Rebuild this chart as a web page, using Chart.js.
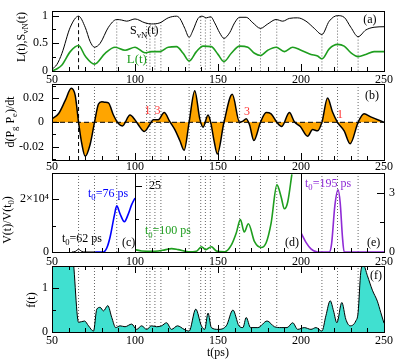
<!DOCTYPE html>
<html>
<head>
<meta charset="utf-8">
<script src="https://cdn.jsdelivr.net/npm/chart.js@4.4.0/dist/chart.umd.min.js"></script>
<style>
body { margin: 0; background: #fff; }
#wrap { position: relative; width: 395px; height: 362px; }
canvas { position: absolute; left: 0; top: 0; }
</style>
</head>
<body>
<div id="wrap">
<canvas id="pa" width="395" height="362"></canvas>
<canvas id="pb" width="395" height="362"></canvas>
<canvas id="pc" width="395" height="362"></canvas>
<canvas id="pd" width="395" height="362"></canvas>
<canvas id="pe" width="395" height="362"></canvas>
<canvas id="pf" width="395" height="362"></canvas>
</div>
<script>
// values, [t (ps), value]
let entropy = [[50,0.03],[53,0.12],[56,0.32],[61,0.79],[66,0.99],[70,0.79],[73,0.53],[75.6,0.43],[79,0.5],[84,0.79],[89,0.93],[92,0.92],[95,0.9],[100,0.94],[106,0.87],[110,0.85],[115,0.87],[120,0.96],[125,0.99],[127,0.95],[130,0.77],[132.6,0.61],[135,0.74],[138,0.95],[140.4,0.99],[143,0.96],[145.6,0.98],[148,0.87],[151,0.69],[153.6,0.59],[157,0.69],[160,0.87],[163,0.97],[167,0.97],[171,0.87],[175.6,0.77],[180,0.85],[185,0.93],[189,0.9],[193,0.95],[198,0.96],[203,0.9],[208,0.77],[212.6,0.66],[217,0.9],[222,1.0],[226,0.97],[230,0.79],[234.4,0.62],[239,0.74],[244,0.79],[250,0.8]];
let linEnt = [[50,0.0],[53,0.04],[56,0.11],[61,0.35],[66,0.46],[70,0.27],[75.6,0.125],[82,0.32],[88,0.43],[94,0.375],[100,0.43],[106,0.33],[110,0.35],[115,0.35],[120,0.43],[125,0.44],[129,0.32],[132.6,0.18],[137,0.35],[141,0.45],[146,0.44],[150,0.3],[153.6,0.17],[158,0.32],[163,0.45],[168,0.43],[172,0.32],[175.6,0.28],[180,0.375],[185,0.43],[190,0.35],[195,0.43],[200,0.375],[206,0.3],[210,0.27],[212.6,0.22],[217,0.4],[222,0.48],[226,0.45],[230,0.33],[234.4,0.26],[239,0.3],[244,0.35],[250,0.35]];
let dPgPe = [[50,0.0027],[54,0.0072],[58,0.018],[61.6,0.028],[64,0.022],[66,0],[68,-0.018],[70,-0.028],[73,-0.018],[75.6,0],[78,0.015],[80,0.017],[82,0.0165],[84,0.016],[87,0.006],[90,-0.001],[92.4,-0.003],[97,0.006],[100,0.002],[102,-0.002],[105.6,-0.0075],[109,-0.0016],[111,0.002],[114,0.002],[117.6,0.008],[121,0.0005],[124,-0.006],[127,-0.015],[129.6,-0.023],[132.6,0],[136,0.026],[139,0.003],[141,-0.004],[144,0.006],[145.6,0],[147.6,-0.015],[149.6,-0.026],[153.6,0],[158.6,0.023],[163,0],[165,0.001],[167,0.003],[169,-0.002],[171.6,-0.015],[175.6,0],[179,0.008],[182,0.007],[185.4,0],[188.4,-0.0035],[193,0.008],[196,0.0005],[199.6,-0.0035],[204,-0.0115],[207,-0.006],[210,-0.007],[212.6,0],[216,0.02],[219,0.0085],[222,0],[226,-0.007],[229.6,-0.0176],[234.4,0],[238,0.007],[242,0.0045],[250,0]];
let ratio62 = [[62,0],[64,200],[66,1000],[68,200],[70,0],[76,0]];
let ratio76 = [[76,0],[81,0],[83,1500],[85,5700],[87.6,14000],[89,17500],[91,14500],[93.6,11500],[96,14500],[98,18000],[100,20500]];
let ratio100 = [[100,0.9],[104,0.4],[112,0.3],[118,0.8],[122,1.3],[126,0.9],[132,0.1],[137,0.3],[140,2.0],[142.6,0.9],[146,2.0],[149,0.4],[154,0.1],[158,2.6],[161,7.2],[163.5,12.3],[165.8,7.6],[168.3,10.7],[172,3.9],[176,1.7],[179,3.5],[182,11],[185.5,25.5],[188,21],[190,16.4],[192,19],[194.5,29.5]];
let ratio195 = [[200,0.97],[203,0.49],[206,0.16],[210,0],[217,0],[218.4,0.4],[220.4,2.35],[222.3,3.15],[223.6,2.5],[225,0.73],[226,0],[250,0]];
let fOfT = [[50,1.8],[62,1.8],[66,0.22],[69.6,0.25],[72,0.14],[75,0.02],[77,0.52],[79,0.56],[81,0.48],[83.6,0.6],[86,0.33],[88.4,0.1],[91,0.14],[94,0.12],[98,0.18],[101,0.06],[104,0.14],[107,0.06],[110,0.14],[113,0.12],[116,0.14],[119,0.21],[122,0.06],[125.6,0.14],[129.6,0.06],[132.6,0.02],[136.6,0.52],[140,0.14],[142,0.06],[144,0.43],[146,0.1],[150,0.06],[155,0.14],[159,0.5],[162.6,0.14],[165,0.1],[167,0.33],[169.6,0.1],[174,0.1],[179.6,0.25],[184,0.12],[188,0.1],[191.6,0.1],[195,0.21],[198,0.06],[202,0.1],[206,0.06],[209,0.1],[212.6,0.02],[215,0.37],[217.6,0.71],[219.6,0.48],[221.6,0.21],[224.6,0.67],[227,0.29],[229.6,0.14],[233,0.25],[234.4,0.44],[236,1.36],[237.6,1.52],[240,1.28],[243,0.95],[246,0.7],[248,0.45],[250,0.2]];
let markTimes = [66, 75.6, 89, 107, 109, 112, 115.6, 132.6, 139.6, 142.4, 145.4, 153.6, 163, 175.6, 185.4, 212.6, 222, 234.4];
let tickLabels = [50, 100, 150, 200, 250];

Chart.defaults.font.family = '"Liberation Serif", "Times New Roman", serif';
Chart.defaults.font.size = 12;
Chart.defaults.color = '#000';

const W = 395, H = 362;
const GREEN = '#1e9e1e', BLUE = '#0000ff', PURPLE = '#8f2bd6';
const AX = 14; // height kept for a labelled x axis

function valueAt(pts, t) {
    for (let i = 1; i < pts.length; i++) {
        if (t <= pts[i][0]) {
            let a = pts[i - 1], b = pts[i];
            return a[1] + (b[1] - a[1]) * (t - a[0]) / (b[0] - a[0]);
        }
    }
    return pts[pts.length - 1][1];
}

function curve(pts, color, width, extra) {
    return Object.assign({
        data: pts.map(p => ({x: p[0], y: p[1]})),
        borderColor: color, borderWidth: width, pointRadius: 0,
        fill: false, cubicInterpolationMode: 'monotone', order: 1
    }, extra || {});
}

function markLines(t0, t1, yFrom, yTo, dashFirst) {
    return markTimes.filter(t => t > t0 && t < t1).map(t => {
        let first = dashFirst && t === markTimes[0];
        return {
            data: [{x: t, y: typeof yFrom === 'function' ? yFrom(t) : yFrom}, {x: t, y: yTo}],
            borderColor: first ? '#000' : '#666',
            borderDash: first ? [4, 3] : [1, 2],
            borderWidth: 1, pointRadius: 0, fill: false, order: 10
        };
    });
}

function labelMap(map) {
    return v => {
        let k = Math.round(v * 1e6) / 1e6;
        return map[k] !== undefined ? map[k] : '';
    };
}

function xScale(min, max, pos, labels, pad) {
    let size = labels.length ? AX : 0;
    return {
        type: 'linear', position: pos, min: min, max: max,
        grid: {display: false, drawTicks: false}, border: {display: false},
        ticks: {
            display: labels.length > 0, stepSize: 50, autoSkip: false, maxRotation: 0,
            padding: pad, callback: v => labels.includes(v) ? String(v) : ''
        },
        afterFit: s => { s.height = size; }
    };
}

function yScale(min, max, pos, step, map, pad, size, mirror) {
    return {
        type: 'linear', position: pos, min: min, max: max,
        grid: {display: false, drawTicks: false}, border: {display: false},
        ticks: {stepSize: step, autoSkip: false, includeBounds: false, padding: pad, mirror: !!mirror, callback: labelMap(map)},
        afterFit: s => { s.width = size; }
    };
}

function rich(ctx, parts, x, y, color, size, rot, align) {
    ctx.save();
    ctx.translate(x, y);
    if (rot) ctx.rotate(rot);
    ctx.fillStyle = color;
    ctx.textBaseline = 'alphabetic';
    const fontOf = k => (k ? size * 0.72 : size) + 'px "Liberation Serif", serif';
    let w = 0;
    parts.forEach(p => { ctx.font = fontOf(p[1]); w += ctx.measureText(p[0]).width; });
    let cx = align === 'center' ? -w / 2 : (align === 'right' ? -w : 0);
    parts.forEach(p => {
        ctx.font = fontOf(p[1]);
        let dy = p[1] === 'sub' ? size * 0.28 : (p[1] === 'sup' ? -size * 0.4 : 0);
        ctx.fillText(p[0], cx, dy);
        cx += ctx.measureText(p[0]).width;
    });
    ctx.restore();
}

// frame + inward tick marks
const inTicks = {
    id: 'inTicks',
    afterDraw(chart, args, opts) {
        let ctx = chart.ctx, a = chart.chartArea;
        ctx.save();
        ctx.strokeStyle = '#000';
        ctx.lineWidth = 1;
        ctx.strokeRect(Math.round(a.left) + 0.5, Math.round(a.top) + 0.5,
            Math.round(a.right - a.left), Math.round(a.bottom - a.top));
        (opts.marks || []).forEach(m => {
            let s = chart.scales[m.scale];
            let first = Math.ceil(s.min / m.minor - 1e-6);
            let last = Math.floor(s.max / m.minor + 1e-6);
            ctx.beginPath();
            for (let i = first; i <= last; i++) {
                let v = i * m.minor;
                let major = Math.abs(v / m.major - Math.round(v / m.major)) < 1e-6;
                let len = major ? 7 : 4;
                let p = Math.round(s.getPixelForValue(v)) + 0.5;
                m.sides.forEach(side => {
                    if (side === 'bottom') { ctx.moveTo(p, a.bottom); ctx.lineTo(p, a.bottom - len); }
                    if (side === 'top') { ctx.moveTo(p, a.top); ctx.lineTo(p, a.top + len); }
                    if (side === 'left') { ctx.moveTo(a.left, p); ctx.lineTo(a.left + len, p); }
                    if (side === 'right') { ctx.moveTo(a.right, p); ctx.lineTo(a.right - len, p); }
                });
            }
            ctx.stroke();
        });
        ctx.restore();
    }
};

// text notes, either at data coords (at) or pixel coords (px)
const notes = {
    id: 'notes',
    afterDatasetsDraw(chart, args, opts) {
        (opts.items || []).forEach(n => {
            let x = n.px ? n.px[0] : chart.scales.x.getPixelForValue(n.at[0]);
            let y = n.px ? n.px[1] : chart.scales.y.getPixelForValue(n.at[1]);
            rich(chart.ctx, n.parts, x, y, n.color || '#000', n.size || 12, n.rot || 0, n.align || 'left');
        });
    }
};

// pad = [left, top, right, bottom] layout padding
function makeChart(id, pad, scales, datasets, marks, items) {
    return new Chart(document.getElementById(id), {
        type: 'line',
        data: {datasets: datasets},
        options: {
            responsive: false, animation: false, events: [],
            layout: {padding: {left: pad[0], top: pad[1], right: pad[2], bottom: pad[3]}},
            scales: scales,
            plugins: {
                legend: {display: false}, tooltip: {enabled: false},
                inTicks: {marks: marks}, notes: {items: items}
            }
        },
        plugins: [inTicks, notes]
    });
}

const L = 52, R = 384, XC = 135, XD = 301;
const UP = -Math.PI / 2;

// (a)
makeChart('pa', [0, 2, W - R, H - 71],
    {x: xScale(50, 250, 'bottom', [], 0), y: yScale(0, 1.08, 'left', 0.25, {0: '0', 0.5: '0.5', 1: '1'}, 4, L)},
    [curve(entropy, '#000', 1), curve(linEnt, GREEN, 1.6)].concat(markLines(50, 250, t => valueAt(entropy, t), 0, true)),
    [{scale: 'x', major: 50, minor: 10, sides: ['bottom']}, {scale: 'y', major: 0.5, minor: 0.25, sides: ['left']}],
    [
        {at: [97, 0.665], parts: [['S', ''], ['vN', 'sub'], ['(t)', '']]},
        {at: [95, 0.15], parts: [['L(t)', '']], color: GREEN, size: 13},
        {at: [237.5, 0.87], parts: [['(a)', '']]},
        {px: [25, 37], parts: [['L(t),S', ''], ['vN', 'sub'], ['(t)', '']], rot: UP, align: 'center'}
    ]);

// (b)
makeChart('pb', [0, 84 - AX, W - R, H - 160],
    {x: xScale(50, 250, 'top', tickLabels, -3),
     y: yScale(-0.031, 0.0315, 'left', 0.01, {'-0.02': '-0.02', 0: '0', 0.02: '0.02'}, 8, L)},
    [curve(dPgPe, '#000', 1.5, {fill: 'origin', backgroundColor: '#ffa500'}),
     {data: [{x: 50, y: 0}, {x: 250, y: 0}], borderColor: '#000', borderDash: [5, 3], borderWidth: 1, pointRadius: 0, order: 0}
    ].concat(markLines(50, 250, -0.031, 0.0315, true)),
    [{scale: 'x', major: 50, minor: 10, sides: ['bottom']}, {scale: 'y', major: 0.02, minor: 0.01, sides: ['left']}],
    [
        {at: [238.5, 0.0188], parts: [['(b)', '']]},
        {at: [107.5, 0.0071], parts: [['1', '']], color: '#ff3333', align: 'center'},
        {at: [113.5, 0.0071], parts: [['3', '']], color: '#ff3333', align: 'center'},
        {at: [167.5, 0.0059], parts: [['3', '']], color: '#ff3333', align: 'center'},
        {at: [223.5, 0.0039], parts: [['1', '']], color: '#ff3333', align: 'center'},
        {px: [14, 122], parts: [['d(P', ''], ['g', 'sub'], [' P', ''], ['e', 'sub'], [')/dt', '']], rot: UP, align: 'center'}
    ]);

// (c)
makeChart('pc', [0, 173 - AX, W - XC, H - 252],
    {x: xScale(50, 100, 'top', [50, 100], -1),
     y: yScale(0, 30000, 'left', 10000, {0: '0', 20000: '2×10⁴'}, 3, L)},
    [curve(ratio62, '#000', 1), curve(ratio76, BLUE, 1.6)].concat(markLines(50, 100, 0, 30000, false)),
    [{scale: 'x', major: 50, minor: 10, sides: ['bottom']}, {scale: 'y', major: 20000, minor: 10000, sides: ['left']}],
    [
        {at: [56, 3800], parts: [['t', ''], ['0', 'sub'], ['=62 ps', '']]},
        {at: [71.7, 21000], parts: [['t', ''], ['0', 'sub'], ['=76 ps', '']], color: BLUE},
        {at: [92.2, 2100], parts: [['(c)', '']]},
        {px: [11, 220], parts: [['V(t)/V(t', ''], ['0', 'sub'], [')', '']], rot: UP, align: 'center'},
        {px: [218, 356], parts: [['t(ps)', '']], align: 'center'}
    ]);

// (d)
makeChart('pd', [XC, 173 - AX, W - XD, H - 252],
    {x: xScale(100, 200, 'top', [150, 200], -1),
     y: yScale(0, 30, 'left', 12.5, {25: '25'}, 14, 0, true)},
    [curve(ratio100, GREEN, 1.6)].concat(markLines(100, 200, 0, 30, false)),
    [{scale: 'x', major: 50, minor: 10, sides: ['bottom']}, {scale: 'y', major: 25, minor: 12.5, sides: ['left']}],
    [
        {at: [106, 6.7], parts: [['t', ''], ['0', 'sub'], ['=100 ps', '']], color: GREEN},
        {at: [190.3, 2.2], parts: [['(d)', '']]}
    ]);

// (e)
makeChart('pe', [XD, 173 - AX, 0, H - 252],
    {x: xScale(200, 250, 'top', [250], -1),
     y: yScale(0, 4, 'right', 1.5, {0: '0', 3: '3'}, 5, W - R)},
    [curve(ratio195, PURPLE, 1.6)].concat(markLines(200, 250, 0, 4, false)),
    [{scale: 'x', major: 50, minor: 10, sides: ['bottom']}, {scale: 'y', major: 3, minor: 1.5, sides: ['right']}],
    [
        {at: [202.4, 3.3], parts: [['t', ''], ['0', 'sub'], ['=195 ps', '']], color: PURPLE},
        {at: [239.7, 0.29], parts: [['(e)', '']]}
    ]);

// (f)
makeChart('pf', [0, 266 - AX, W - R, H - 332 - AX],
    {x: xScale(50, 250, 'bottom', tickLabels, 2),
     x2: xScale(50, 250, 'top', tickLabels, -3),
     y: yScale(0, 1.5, 'left', 0.5, {0: '0', 1: '1'}, 4, L)},
    [curve(fOfT, '#000', 1, {fill: 'origin', backgroundColor: '#40e0d0'})].concat(markLines(50, 250, 0, 1.5, false)),
    [{scale: 'x', major: 50, minor: 10, sides: ['bottom', 'top']}, {scale: 'y', major: 1, minor: 0.5, sides: ['left']}],
    [
        {at: [241.5, 1.21], parts: [['(f)', '']]},
        {px: [35, 300], parts: [['f(t)', '']], rot: UP, align: 'center'}
    ]);
</script>
</body>
</html>
